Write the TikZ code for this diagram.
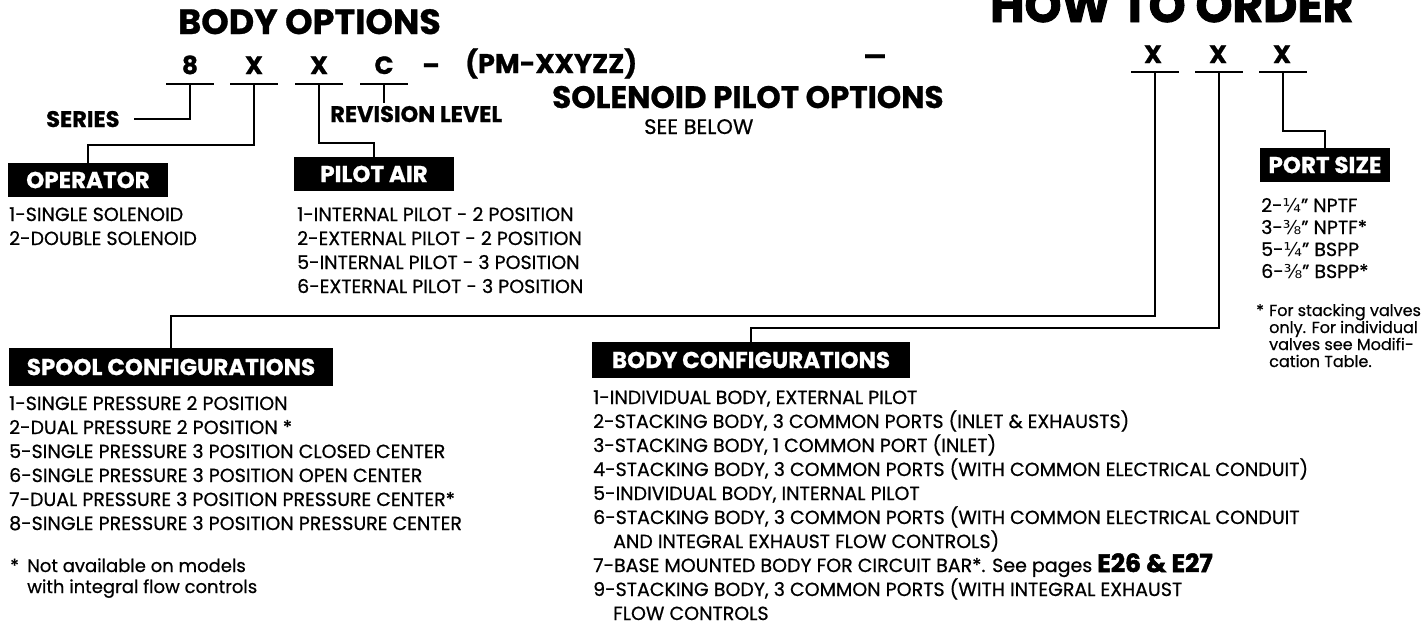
\documentclass[tikz,border=0pt]{standalone}
\usepackage{fontspec}
\setmainfont{Poppins}[UprightFeatures={FakeBold=0.6}, BoldFeatures={FakeBold=0.8}]
\newfontfamily\fracfont{DejaVu Sans}
\newfontfamily\heavyfont{Poppins}[BoldFeatures={FakeBold=2}]
\newcommand{\fsz}[1]{\fontsize{#1}{#1}\selectfont}

\begin{document}
\begin{tikzpicture}[x=1pt, y=-1pt,
    % Define the styles for the lines
    lead/.style={line width=2.2pt, line join=miter},
    uline/.style={line width=2.6pt},
    % Define the styles for the texts
    txt/.style={anchor=base west, inner sep=0pt, font=\fsz{19}},
    note/.style={anchor=base west, inner sep=0pt, font=\fsz{18}},
    code/.style={anchor=base, inner sep=0pt, font=\bfseries\fsz{25}},
    head/.style={anchor=base west, inner sep=0pt, font=\bfseries\fsz{22.5}},
    tag/.style={fill=black, text=white, inner sep=0pt, font=\bfseries\fsz{23}}
]

\fill[white] (0,0) rectangle (1424,627);
\useasboundingbox (0,0) rectangle (1424,627);

% Titles
\node[anchor=base west, inner sep=0pt, font=\heavyfont\bfseries\fsz{47}] (order) at (990,22) {HOW TO ORDER};
\node[anchor=base west, inner sep=0pt, font=\bfseries\fsz{35}] (bodyopt) at (178,34) {BODY OPTIONS};

% The order code
\node[code] (d8) at (190,74) {8};
\node[code] (dx1) at (254,74) {X};
\node[code] (dx2) at (319,74) {X};
\node[code] (dc) at (384,74) {C};
\node[code] (dash1) at (431,74) {–};
\node[code, anchor=base west, font=\bfseries\fsz{27}] (pm) at (465,73) {(PM-XXYZZ)};
\node[code] (dash2) at (875,65) {—};
\node[code] (ox1) at (1153,63) {X};
\node[code] (ox2) at (1218,63) {X};
\node[code] (ox3) at (1282,63) {X};

% The underlines
\coordinate (u8) at (190,84);
\coordinate (ux1) at (254,84);
\coordinate (ux2) at (319,84);
\coordinate (uc) at (384,84);
\coordinate (uo1) at (1155,72);
\coordinate (uo2) at (1219,72);
\coordinate (uo3) at (1283,72);
\foreach \u in {u8,ux1,ux2,uc,uo1,uo2,uo3}
    \draw[uline] (\u) ++(-24,0) -- ++(48,0);

% Labels
\node[head, inner xsep=14pt, inner ysep=0pt] (series) at (32,127) {SERIES};
\node[head, inner sep=3pt] (revision) at (327,122) {REVISION LEVEL};
\node[anchor=base west, inner sep=0pt, font=\bfseries\fsz{31}] (solenoid) at (552,108) {SOLENOID PILOT OPTIONS};
\node[anchor=base west, inner sep=0pt, font=\fsz{21}] (seebelow) at (644,134) {SEE BELOW};

% The black tags
\node[tag, minimum width=160pt, minimum height=34pt] (operator) at (88,180) {OPERATOR};
\node[tag, minimum width=160pt, minimum height=34pt] (pilot) at (374,174) {PILOT AIR};
\node[tag, minimum width=130pt, minimum height=34pt] (portsize) at (1325,165) {PORT SIZE};
\node[tag, minimum width=324pt, minimum height=38pt] (spool) at (171,367) {SPOOL CONFIGURATIONS};
\node[tag, minimum width=318pt, minimum height=36pt] (bodycfg) at (751,360) {BODY CONFIGURATIONS};

% Connectors
\draw[lead] (u8) |- (series.east);
\draw[lead] (ux1) -- ++(0,61) -| (operator.north);
\draw[lead] (ux2) -- ++(0,59) -| (pilot.north);
\draw[lead] (uc) -- (uc |- revision.north);
\draw[lead] (uo3) -- ++(0,59) -| (portsize.north);
\draw[lead] (uo1) -- ++(0,244) -| (spool.north);
\draw[lead] (uo2) -- ++(0,256) -| (bodycfg.north);

% Operator and pilot air
\foreach \t [count=\i] in {1-SINGLE SOLENOID, 2-DOUBLE SOLENOID}
    \node[txt] (oper\i) at (9, {221+24*(\i-1)}) {\t};
\foreach \t [count=\i] in {1-INTERNAL PILOT - 2 POSITION, 2-EXTERNAL PILOT - 2 POSITION,
        5-INTERNAL PILOT - 3 POSITION, 6-EXTERNAL PILOT - 3 POSITION}
    \node[txt] (pilot\i) at (297, {221+24*(\i-1)}) {\t};

% Port size
\foreach \t [count=\i] in {{2-{\fracfont ¼}” NPTF}, {3-{\fracfont ⅜}” NPTF*},
        {5-{\fracfont ¼}” BSPP}, {6-{\fracfont ⅜}” BSPP*}}
    \node[txt] (port\i) at (1261, {212+22*(\i-1)}) {\t};
\node[note, font=\fsz{16}] (portstar) at (1256,316) {*};
\foreach \t [count=\i] in {For stacking valves, only. For individual, valves see Modifi-, cation Table.}
    \node[note, font=\fsz{16}] (portnote\i) at (1269, {316+17*(\i-1)}) {\t};

% Spool configurations
\foreach \t [count=\i] in {1-SINGLE PRESSURE 2 POSITION, 2-DUAL PRESSURE 2 POSITION *,
        5-SINGLE PRESSURE 3 POSITION CLOSED CENTER, 6-SINGLE PRESSURE 3 POSITION OPEN CENTER,
        7-DUAL PRESSURE 3 POSITION PRESSURE CENTER*, 8-SINGLE PRESSURE 3 POSITION PRESSURE CENTER}
    \node[txt] (spool\i) at (9, {410+24*(\i-1)}) {\t};
\node[note] (spoolstar) at (10,572) {*};
\node[note] (spoolnote1) at (27,572) {Not available on models};
\node[note] (spoolnote2) at (27,593) {with integral flow controls};

% Body configurations
\foreach \t/\dx [count=\i] in {{1-INDIVIDUAL BODY, EXTERNAL PILOT}/0,
        {2-STACKING BODY, 3 COMMON PORTS (INLET \& EXHAUSTS)}/0,
        {3-STACKING BODY, 1 COMMON PORT (INLET)}/0,
        {4-STACKING BODY, 3 COMMON PORTS (WITH COMMON ELECTRICAL CONDUIT)}/0,
        {5-INDIVIDUAL BODY, INTERNAL PILOT}/0,
        {6-STACKING BODY, 3 COMMON PORTS (WITH COMMON ELECTRICAL CONDUIT}/0,
        {AND INTEGRAL EXHAUST FLOW CONTROLS)}/20,
        {7-BASE MOUNTED BODY FOR CIRCUIT BAR*. See pages {\heavyfont\bfseries\fsz{25}E26 \& E27}}/0,
        {9-STACKING BODY, 3 COMMON PORTS (WITH INTEGRAL EXHAUST}/0,
        {FLOW CONTROLS}/20}
    \node[txt] (bodyitem\i) at ({593+\dx}, {404+24*(\i-1)}) {\t};

\end{tikzpicture}
\end{document}
